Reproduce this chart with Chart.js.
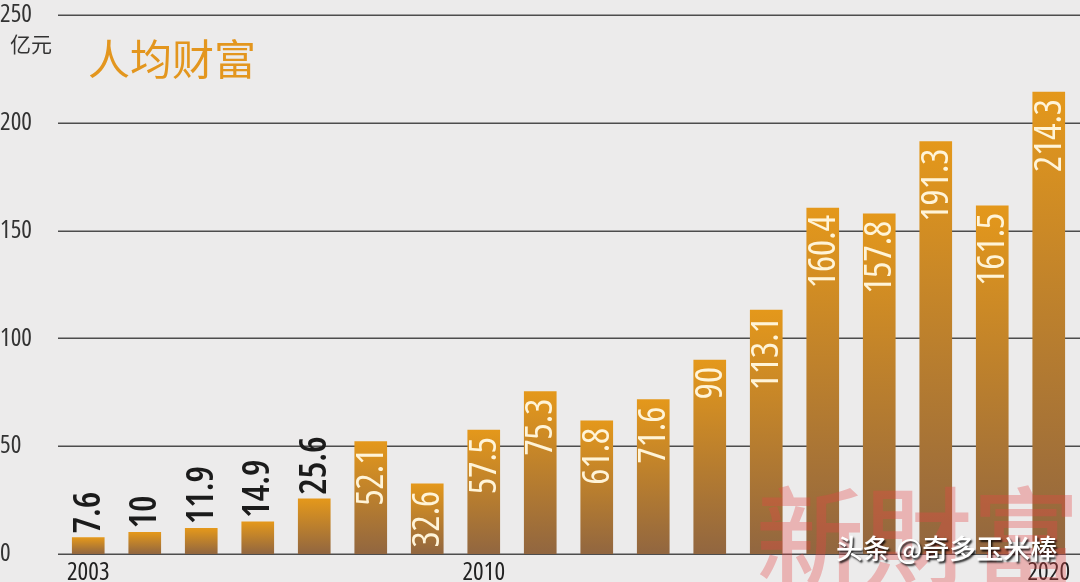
<!DOCTYPE html>
<html>
<head>
<meta charset="utf-8">
<script src="https://cdn.jsdelivr.net/npm/chart.js@4.4.0/dist/chart.umd.min.js"></script>
<style>
  html, body { margin: 0; padding: 0; background: #ECEBEB; }
  #wrap { position: relative; width: 1080px; height: 582px; overflow: hidden; }
  canvas { display: block; }
</style>
</head>
<body>
<div id="wrap"><canvas id="c" width="1080" height="582"></canvas></div>
<script>
// ---- data ----
const years = ['2003','2004','2005','2006','2007','2008','2009','2010','2011','2012','2013','2014','2015','2016','2017','2018','2019','2020'];
const wealth = [7.6, 10, 11.9, 14.9, 25.6, 52.1, 32.6, 57.5, 75.3, 61.8, 71.6, 90, 113.1, 160.4, 157.8, 191.3, 161.5, 214.3];
const shownYears = ['2003', '2010', '2020'];
const yTicks = [0, 50, 100, 150, 200, 250];
const titleText = '人均财富';
const unitText = '亿元';
const watermarkText = '新財富';
const creditText = '头条 @奇多玉米棒';

const COND = '"Open Sans", "Roboto Condensed", sans-serif';
const CJK = '"Noto Sans CJK SC", "Noto Sans", sans-serif';

function barGradient(context) {
  const chart = context.chart;
  const ys = chart.scales && chart.scales.y;
  if (!ys || context.type !== 'data') return '#D88E1E';
  const v = wealth[context.dataIndex];
  const top = ys.getPixelForValue(v);
  const bottom = ys.getPixelForValue(0);
  if (!isFinite(top) || !isFinite(bottom) || bottom - top < 1) return '#D88E1E';
  const g = chart.ctx.createLinearGradient(0, top, 0, bottom);
  g.addColorStop(0, '#E4981B');
  g.addColorStop(1, '#916640');
  return g;
}

const decorPlugin = {
  id: 'decor',
  beforeDatasetsDraw(chart) {
    const ctx = chart.ctx;
    const ys = chart.scales.y;
    ctx.save();
    ctx.strokeStyle = '#4d4d4d';
    ctx.lineWidth = 1.5;
    yTicks.forEach(t => {
      const py = Math.round(ys.getPixelForValue(t)) + 0.25;
      ctx.beginPath();
      ctx.moveTo(58, py);
      ctx.lineTo(chart.width, py);
      ctx.stroke();
    });
    ctx.restore();
  },
  afterDatasetsDraw(chart) {
    const ctx = chart.ctx;
    const meta = chart.getDatasetMeta(0);
    ctx.save();
    meta.data.forEach((bar, i) => {
      const v = wealth[i];
      const label = String(v);
      ctx.save();
      if (v >= 30) {
        ctx.translate(bar.x, bar.y + 7);
        ctx.rotate(-Math.PI / 2);
        ctx.font = 'normal condensed 38px "Open Sans"';
        ctx.fillStyle = '#FFF4D8';
        ctx.textAlign = 'right';
      } else {
        ctx.translate(bar.x, bar.y - 4);
        ctx.rotate(-Math.PI / 2);
        ctx.font = 'normal condensed 600 37px "Open Sans"';
        ctx.fillStyle = '#1b1b1b';
        ctx.textAlign = 'left';
      }
      ctx.textBaseline = 'middle';
      ctx.fillText(label, 0, 1);
      ctx.restore();
    });
    // watermark over the bars, translucent
    ctx.font = '500 108px "Noto Sans CJK TC", "Noto Sans CJK SC", serif';
    ctx.fillStyle = 'rgba(228, 70, 70, 0.34)';
    ctx.textBaseline = 'alphabetic';
    ctx.textAlign = 'left';
    ctx.fillText(watermarkText, 756, 578);
    ctx.restore();
  },
  afterDraw(chart) {
    const ctx = chart.ctx;
    ctx.save();
    ctx.textAlign = 'left';
    ctx.textBaseline = 'middle';
    // unit
    ctx.font = '21px ' + CJK;
    ctx.fillStyle = '#333333';
    ctx.fillText(unitText, 10, 44);
    // title
    ctx.font = '42px ' + CJK;
    ctx.fillStyle = '#E3961E';
    ctx.fillText(titleText, 88, 59);
    // credit text
    ctx.font = '500 27px ' + CJK;
    ctx.shadowColor = 'rgba(0,0,0,0.85)';
    ctx.shadowBlur = 2;
    ctx.shadowOffsetX = 1.5;
    ctx.shadowOffsetY = 1.5;
    ctx.fillStyle = '#FFFFFF';
    ctx.fillText(creditText, 836, 549);
    ctx.restore();
  }
};

new Chart(document.getElementById('c'), {
  type: 'bar',
  data: {
    labels: years,
    datasets: [{
      data: wealth,
      backgroundColor: barGradient,
      borderWidth: 0,
      barThickness: 32
    }]
  },
  options: {
    responsive: false,
    animation: false,
    events: [],
    layout: { padding: { top: 12, right: 3, left: 0, bottom: 0 } },
    plugins: { legend: { display: false }, tooltip: { enabled: false } },
    scales: {
      x: {
        grid: { display: false, drawTicks: false },
        border: { display: false },
        ticks: {
          autoSkip: false,
          maxRotation: 0,
          padding: 4,
          color: '#222222',
          font: { family: COND, size: 25, weight: 'condensed' },
          callback: function (val) {
            const l = this.getLabelForValue(val);
            return shownYears.includes(l) ? l : '';
          }
        },
        afterFit(scale) { scale.height = 28; }
      },
      y: {
        min: 0,
        max: 250,
        afterBuildTicks(scale) { scale.ticks = yTicks.map(v => ({ value: v })); },
        grid: { display: false, drawTicks: false },
        border: { display: false },
        ticks: {
          crossAlign: 'far',
          padding: 0,
          color: '#333333',
          font: { family: COND, size: 25, weight: 'condensed' }
        },
        afterFit(scale) { scale.width = 60; }
      }
    }
  },
  plugins: [decorPlugin]
});
</script>
</body>
</html>
